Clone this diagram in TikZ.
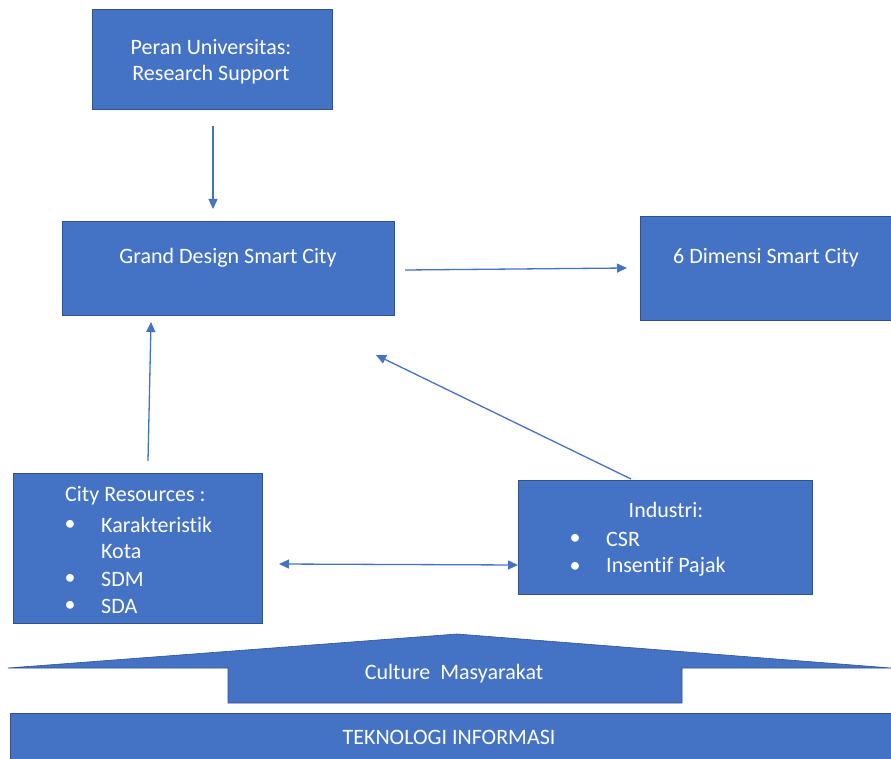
\documentclass[tikz,border=0pt]{standalone}
\usepackage{fontspec}
\setmainfont{Carlito}[Ligatures=NoCommon]
\usetikzlibrary{arrows.meta}
\definecolor{boxblue}{HTML}{4472C4}
\definecolor{edgeblue}{HTML}{2F528F}
\begin{document}
\begin{tikzpicture}[x=1pt,y=-1pt,
  blk/.style={fill=boxblue, draw=edgeblue, line width=0.6pt, inner sep=0pt},
  lbl/.style={text=white, inner sep=0pt, font=\fontsize{22}{27}\selectfont},
  arr/.style={draw=boxblue, line width=1.3pt, -{Triangle[width=9pt,length=10pt]}},
  darr/.style={draw=boxblue, line width=1.3pt, {Triangle[width=9pt,length=10pt]}-{Triangle[width=9pt,length=10pt]}}]
\useasboundingbox (0,0) rectangle (891,759);
\fill[white] (0,0) rectangle (891,759);
% boxes
\node[blk, minimum width=240pt, minimum height=100pt] (peran) at (212,59) {};
\node[blk, minimum width=332pt, minimum height=94pt] (grand) at (228,268) {};
\node[blk, minimum width=252pt, minimum height=104pt] (dimensi) at (766,268) {};
\node[blk, minimum width=249pt, minimum height=150pt] (city) at (137.5,548) {};
\node[blk, minimum width=294pt, minimum height=114pt] (industri) at (665,537) {};
% texts
\node[lbl] (t1) at (211,47) {Peran Universitas:};
\node[lbl] (t2) at (211,75) {Research Support};
\node[lbl] (t3) at (228,258) {Grand Design Smart City};
\node[lbl] (t4) at (766,258) {6 Dimensi Smart City};
\node[lbl, anchor=west] (c0) at (65,496) {City Resources :};
\node[lbl] (cb1) at (70,525) {•};
\node[lbl, anchor=west] (c1) at (101,525) {Karakteristik};
\node[lbl, anchor=west] (c2) at (101,552) {Kota};
\node[lbl] (cb2) at (70,579) {•};
\node[lbl, anchor=west] (c3) at (101,579) {SDM};
\node[lbl] (cb3) at (70,606) {•};
\node[lbl, anchor=west] (c4) at (101,606) {SDA};
\node[lbl] (i0) at (666,510) {Industri:};
\node[lbl] (ib1) at (575,539) {•};
\node[lbl, anchor=west] (i1) at (606,539) {CSR};
\node[lbl] (ib2) at (575,567) {•};
\node[lbl, anchor=west] (i2) at (606,567) {Insentif Pajak};
% culture shape
\path[blk] (8,668) -- (457,634) -- (891,668) -- (682,668) -- (682,703) -- (228,703) -- (228,668) -- cycle;
\node[lbl] (culture) at (454,674) {Culture\ \ Masyarakat};
% teknologi bar
\node[blk, minimum width=881pt, minimum height=47pt] (tek) at (450.5,736.5) {};
\node[lbl] (t5) at (449,737) {TEKNOLOGI INFORMASI};
% arrow end points
\coordinate (a1s) at (213,126);
\coordinate (a1e) at (213,209);
\coordinate (a2s) at (405,270);
\coordinate (a2e) at (627,268);
\coordinate (a3s) at (148,461);
\coordinate (a3e) at (151,322);
\coordinate (a4s) at (631,479);
\coordinate (a4e) at (376,355);
\coordinate (a5s) at (279,564);
\coordinate (a5e) at (518,565);
\draw[arr] (a1s) -- (a1e);
\draw[arr] (a2s) -- (a2e);
\draw[arr] (a3s) -- (a3e);
\draw[arr] (a4s) -- (a4e);
\draw[darr] (a5s) -- (a5e);
\end{tikzpicture}
\end{document}
